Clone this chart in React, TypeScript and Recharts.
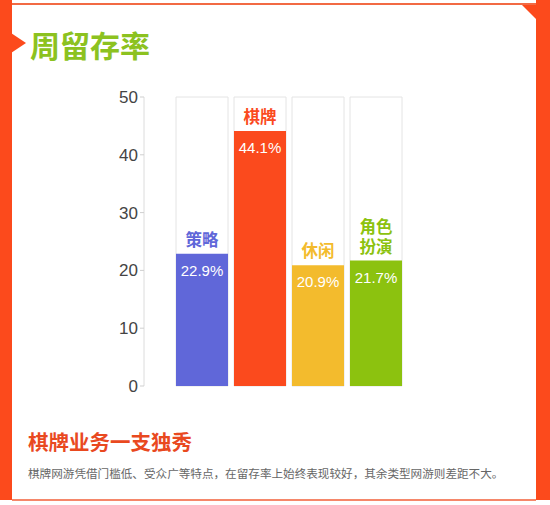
import { BarChart, Bar, XAxis, YAxis, Cell, LabelList } from 'recharts';

const categories = ['策略', '棋牌', '休闲', '角色扮演'];
const retention = [22.9, 44.1, 20.9, 21.7];
const barColors = ['#6067d9', '#fb4a1d', '#f3bb2d', '#8cc20f'];
const yTicks = [0, 10, 20, 30, 40, 50];

const data = categories.map((name, i) => ({ name, value: retention[i] }));

const ORANGE = '#fc4a1c';
const CJK = '"Noto Sans CJK SC", "Noto Sans", sans-serif';
const LATIN = '"Liberation Sans", Arial, sans-serif';

// category name above the bar (wrapped after two chars), percentage inside the top of the bar
const BarLabel = (props: any) => {
  const { x, y, width, index } = props;
  const cx = x + width / 2;
  const name = categories[index];
  const lines = name.length > 2 ? [name.slice(0, 2), name.slice(2)] : [name];
  const lineGap = 20;
  return (
    <g>
      <text
        x={cx}
        y={y - 8 - (lines.length - 1) * lineGap}
        textAnchor="middle"
        fill={barColors[index]}
        fontSize={16.5}
        fontWeight="bold"
        fontFamily={CJK}
      >
        {lines.map((ln, k) => (
          <tspan key={k} x={cx} dy={k === 0 ? 0 : lineGap}>
            {ln}
          </tspan>
        ))}
      </text>
      <text x={cx} y={y + 22} textAnchor="middle" fill="#fff" fontSize={15} fontFamily={LATIN}>
        {retention[index].toFixed(1)}%
      </text>
    </g>
  );
};

export default function App() {
  return (
    <div style={{ position: 'fixed', left: 0, top: 0, width: 550, height: 505, background: '#fff', overflow: 'hidden' }}>
      <svg width={550} height={505} style={{ position: 'absolute', left: 0, top: 0 }}>
        <rect x={12} y={3} width={524} height={2} fill="#f26a44" />
        <rect x={0} y={0} width={12} height={500} fill={ORANGE} />
        <polygon points="11,33 26,43 11,53" fill={ORANGE} />
        <rect x={536} y={0} width={14} height={500} fill={ORANGE} />
        <polygon points="522,5 537,5 537,20" fill={ORANGE} />
        <rect x={12} y={499} width={524} height={2} fill="#f5876a" />
      </svg>
      <div
        style={{
          position: 'absolute',
          left: 30,
          top: 22,
          fontFamily: CJK,
          fontWeight: 'bold',
          fontSize: 30,
          color: '#8cc220',
          lineHeight: '44px',
        }}
      >
        周留存率
      </div>
      <div style={{ position: 'absolute', left: 0, top: 0 }}>
        <BarChart width={550} height={505} data={data} margin={{ top: 97, right: 117, bottom: 119, left: 0 }}>
          <XAxis
            dataKey="name"
            tick={false}
            tickLine={false}
            height={0}
            axisLine={{ stroke: '#e6e6e6' }}
            padding={{ left: 29, right: 28 }}
          />
          <YAxis
            width={144}
            domain={[0, 50]}
            ticks={yTicks}
            tickSize={4}
            tickLine={{ stroke: '#cfcfcf' }}
            axisLine={{ stroke: '#dcdcdc' }}
            tick={{ fill: '#444', fontSize: 17, fontFamily: LATIN }}
          />
          <Bar
            dataKey="value"
            barSize={52}
            isAnimationActive={false}
            background={{ fill: '#fff', stroke: '#e4e4e4', strokeWidth: 1 }}
          >
            {data.map((d, i) => (
              <Cell key={d.name} fill={barColors[i]} />
            ))}
            <LabelList dataKey="value" content={BarLabel} />
          </Bar>
        </BarChart>
      </div>
      <div
        style={{
          position: 'absolute',
          left: 28,
          top: 427,
          fontFamily: CJK,
          fontWeight: 'bold',
          fontSize: 20.5,
          color: '#e9491f',
          lineHeight: '28px',
        }}
      >
        棋牌业务一支独秀
      </div>
      <div
        style={{
          position: 'absolute',
          left: 28,
          top: 464,
          fontFamily: CJK,
          fontSize: 11.6,
          color: '#666',
          lineHeight: '18px',
          whiteSpace: 'nowrap',
        }}
      >
        棋牌网游凭借门槛低、受众广等特点，在留存率上始终表现较好，其余类型网游则差距不大。
      </div>
    </div>
  );
}
